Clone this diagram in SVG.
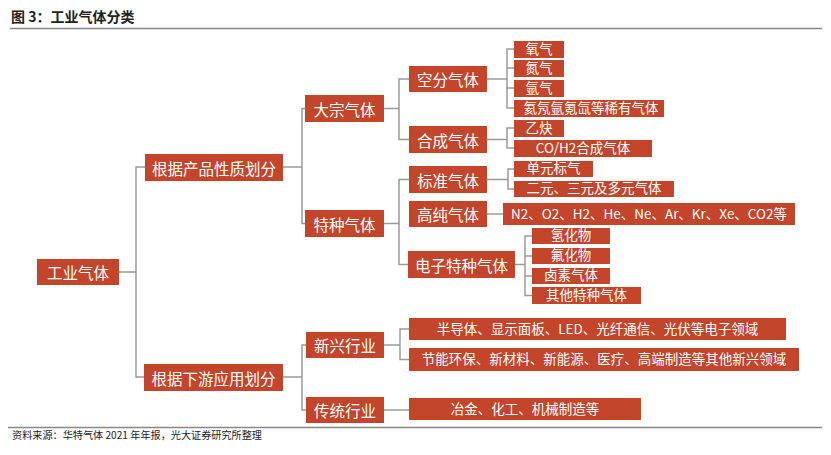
<svg xmlns="http://www.w3.org/2000/svg" width="831" height="455" viewBox="0 0 831 455">
<style>
text{font-family:"Noto Sans CJK SC","Noto Sans",sans-serif;}
.b{fill:#C3452B;}
.t{fill:#fff;font-size:15.5px;text-anchor:middle;dominant-baseline:central;}
.l{fill:#fff;font-size:13.5px;text-anchor:middle;}
.c{fill:none;stroke:#9a9a9a;stroke-width:1.5;}
</style>
<rect width="831" height="455" fill="#fff"/>
<text x="11" y="22" font-size="14" font-weight="bold" fill="#222">图 3：工业气体分类</text>
<line x1="10" y1="28.5" x2="822" y2="28.5" stroke="#888" stroke-width="1.5"/>

<g id="connectors" class="c">
<path d="M119 272H136M145 167H136V377H144"/>
<path d="M283 167H302M305 108.5H302V223.5H305"/>
<path d="M384 108.5H399M409 79H399V139.5H409"/>
<path d="M487 79H507M514 49H507V108H514M507 68H514M507 88H514"/>
<path d="M487 139.5H507M514 128H507V148H514"/>
<path d="M384 223.5H399M409 179.5H399V264.5H408"/>
<path d="M487 179.5H508M514 169H508V189H514"/>
<path d="M487 214H503"/>
<path d="M515 264.5H525M532 236H525V295.5H532M525 256H532M525 276H532"/>
<path d="M283 377H302M306 345H302V410H306"/>
<path d="M384 345H400M409 329H400V359.5H409"/>
<path d="M384 410H409"/>
</g>

<g id="n-root"><rect class="b" x="37" y="259" width="82" height="26"/><text class="t" x="78" y="272">工业气体</text></g>
<g id="n-prop"><rect class="b" x="145" y="154" width="138" height="27"/><text class="t" x="214" y="167.5">根据产品性质划分</text></g>
<g id="n-down"><rect class="b" x="144" y="364" width="139" height="27"/><text class="t" x="213.5" y="377.5">根据下游应用划分</text></g>

<g id="n-bulk"><rect class="b" x="305" y="95" width="79" height="27"/><text class="t" x="344.5" y="108.5">大宗气体</text></g>
<g id="n-special"><rect class="b" x="305" y="210" width="79" height="27"/><text class="t" x="344.5" y="223.5">特种气体</text></g>
<g id="n-new"><rect class="b" x="306" y="332" width="78" height="26"/><text class="t" x="345" y="345">新兴行业</text></g>
<g id="n-trad"><rect class="b" x="306" y="397" width="78" height="26"/><text class="t" x="345" y="410">传统行业</text></g>

<g id="n-air"><rect class="b" x="409" y="66" width="78" height="26"/><text class="t" x="448" y="79">空分气体</text></g>
<g id="n-syn"><rect class="b" x="409" y="126" width="78" height="27"/><text class="t" x="448" y="139.5">合成气体</text></g>
<g id="n-std"><rect class="b" x="409" y="166" width="78" height="27"/><text class="t" x="448" y="179.5">标准气体</text></g>
<g id="n-pure"><rect class="b" x="409" y="201" width="78" height="26"/><text class="t" x="448" y="214">高纯气体</text></g>
<g id="n-elec"><rect class="b" x="408" y="251" width="107" height="27"/><text class="t" x="461.5" y="264.5">电子特种气体</text></g>

<g id="l-o2"><rect class="b" x="514" y="41" width="50" height="17"/><text class="l" x="539" y="53.8">氧气</text></g>
<g id="l-n2"><rect class="b" x="514" y="60" width="50" height="17"/><text class="l" x="539" y="72.8">氮气</text></g>
<g id="l-ar"><rect class="b" x="514" y="80" width="50" height="17"/><text class="l" x="539" y="92.8">氩气</text></g>
<g id="l-rare"><rect class="b" x="514" y="100" width="150" height="17"/><text class="l" x="591" y="112.8">氦氖氩氪氙等稀有气体</text></g>
<g id="l-c2h2"><rect class="b" x="514" y="120" width="50" height="17"/><text class="l" x="539" y="132.8">乙炔</text></g>
<g id="l-coh2"><rect class="b" x="514" y="140" width="138" height="17"/><text class="l" x="583" y="152.8">CO/H2合成气体</text></g>

<g id="l-unit"><rect class="b" x="514" y="161" width="79" height="16"/><text class="l" x="553.5" y="173.3">单元标气</text></g>
<g id="l-multi"><rect class="b" x="514" y="181" width="160" height="16"/><text class="l" x="594" y="193.3">二元、三元及多元气体</text></g>
<g id="l-pure"><rect class="b" x="503" y="203" width="292" height="22"/><text class="l" x="649" y="218.8" font-size="14" textLength="276" lengthAdjust="spacingAndGlyphs">N2、O2、H2、He、Ne、Ar、Kr、Xe、CO2等</text></g>

<g id="l-hyd"><rect class="b" x="532" y="228" width="78" height="16"/><text class="l" x="571" y="240.3">氢化物</text></g>
<g id="l-flu"><rect class="b" x="532" y="248" width="78" height="16"/><text class="l" x="571" y="260.3">氟化物</text></g>
<g id="l-hal"><rect class="b" x="532" y="268" width="78" height="16"/><text class="l" x="571" y="280.3">卤素气体</text></g>
<g id="l-oth"><rect class="b" x="532" y="287" width="109" height="17"/><text class="l" x="586.5" y="299.8">其他特种气体</text></g>

<g id="l-semi"><rect class="b" x="409" y="318" width="377" height="22"/><text class="l" x="597.5" y="333.5">半导体、显示面板、LED、光纤通信、光伏等电子领域</text></g>
<g id="l-energy"><rect class="b" x="409" y="348" width="390" height="23"/><text class="l" x="604" y="364">节能环保、新材料、新能源、医疗、高端制造等其他新兴领域</text></g>
<g id="l-metal"><rect class="b" x="409" y="398" width="232" height="22"/><text class="l" x="525" y="413.5">冶金、化工、机械制造等</text></g>

<line x1="8" y1="427.5" x2="822" y2="427.5" stroke="#888" stroke-width="1.5"/>
<text x="12" y="439" font-size="10.5" fill="#222" textLength="250" lengthAdjust="spacingAndGlyphs">资料来源：华特气体 2021 年年报，光大证券研究所整理</text>
</svg>
